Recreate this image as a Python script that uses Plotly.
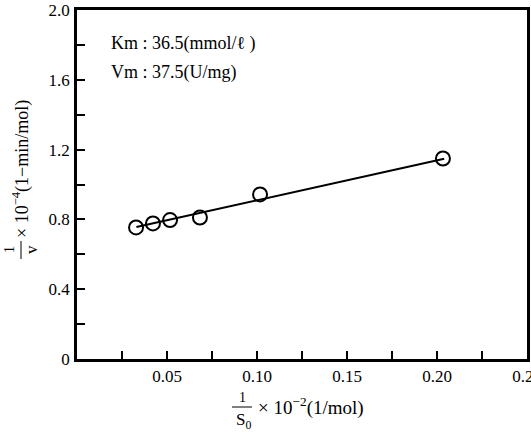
import plotly.graph_objects as go

# Data
x_vals = [0.0328, 0.0422, 0.0517, 0.0683, 0.1017, 0.2033]
y_vals = [0.754, 0.777, 0.796, 0.811, 0.943, 1.149]
fit_x = [0.033, 0.204]
fit_y = [0.757, 1.147]

x_tickvals = [0.05, 0.10, 0.15, 0.20, 0.25]
x_ticktext = ["0.05", "0.10", "0.15", "0.20", "0.25"]
y_tickvals = [0, 0.4, 0.8, 1.2, 1.6, 2.0]
y_ticktext = ["0", "0.4", "0.8", "1.2", "1.6", "2.0"]

W, H = 531, 432
L, T, R, B = 77, 10, 4, 73
PW, PH = W - L - R, H - T - B

def px(x):
    return (x - L) / PW

def py(y):
    return 1 - (y - T) / PH

FONT = "Liberation Serif"

fig = go.Figure()
fig.add_trace(go.Scatter(x=fit_x, y=fit_y, mode="lines",
                         line=dict(color="black", width=2), showlegend=False))
fig.add_trace(go.Scatter(x=x_vals, y=y_vals, mode="markers",
                         marker=dict(symbol="circle-open", size=14, color="black",
                                     line=dict(width=2, color="black")),
                         showlegend=False))

fig.update_xaxes(range=[0, 0.25], tickvals=x_tickvals, ticktext=x_ticktext,
                 ticks="inside", ticklen=8, tickwidth=2, tickcolor="black",
                 minor=dict(ticks="inside", ticklen=8, tickwidth=2, tickcolor="black",
                            tick0=0.025, dtick=0.05),
                 showline=True, linecolor="black", linewidth=2.5, mirror=True,
                 showgrid=False, zeroline=False, ticklabelstandoff=0,
                 ticklabeloverflow="allow", automargin=False,
                 tickfont=dict(family=FONT, size=17, color="black"))
fig.update_yaxes(range=[0, 2.0], tickvals=y_tickvals, ticktext=y_ticktext,
                 ticks="inside", ticklen=8, tickwidth=2, tickcolor="black",
                 minor=dict(ticks="inside", ticklen=8, tickwidth=2, tickcolor="black",
                            tick0=0.2, dtick=0.4),
                 showline=True, linecolor="black", linewidth=2.5, mirror=True,
                 showgrid=False, zeroline=False, ticklabelstandoff=1,
                 ticklabeloverflow="allow", automargin=False,
                 tickfont=dict(family=FONT, size=17, color="black"))

annots = [
    dict(text="Km : 36.5(mmol/ℓ )", x=px(109), y=py(43), xanchor="left", yanchor="middle", size=18),
    dict(text="Vm : 37.5(U/mg)", x=px(109), y=py(72), xanchor="left", yanchor="middle", size=18),
    # x-axis title
    dict(text="1", x=px(242), y=py(397), xanchor="center", yanchor="middle", size=14),
    dict(text="S<sub>0</sub>", x=px(243), y=py(421), xanchor="center", yanchor="middle", size=17),
    dict(text="× 10<sup>−2</sup>(1/mol)", x=px(256), y=py(406), xanchor="left", yanchor="middle", size=19),
]
for a in annots:
    fig.add_annotation(text=a["text"], x=a["x"], y=a["y"], xref="paper", yref="paper",
                       xanchor=a["xanchor"], yanchor=a["yanchor"], showarrow=False,
                       font=dict(family=FONT, size=a["size"], color="black"))

# y-axis title (rotated)
fig.add_annotation(text="1", x=px(10), y=py(250), xref="paper", yref="paper",
                   textangle=-90, showarrow=False, xanchor="center", yanchor="middle",
                   font=dict(family=FONT, size=14, color="black"))
fig.add_annotation(text="v", x=px(32), y=py(250), xref="paper", yref="paper",
                   textangle=-90, showarrow=False, xanchor="center", yanchor="middle",
                   font=dict(family=FONT, size=17, color="black"))
fig.add_annotation(text="× 10<sup>−4</sup>(1−min/mol)", x=px(21), y=py(240), xref="paper", yref="paper",
                   textangle=-90, showarrow=False, xanchor="center", yanchor="bottom",
                   font=dict(family=FONT, size=18, color="black"))

fig.add_shape(type="line", xref="paper", yref="paper",
              x0=px(232), x1=px(252), y0=py(407), y1=py(407),
              line=dict(color="black", width=1))
fig.add_shape(type="line", xref="paper", yref="paper",
              x0=px(21), x1=px(21), y0=py(241), y1=py(259),
              line=dict(color="black", width=1))

fig.update_layout(width=W, height=H, margin=dict(l=L, r=R, t=T, b=B, autoexpand=False),
                  paper_bgcolor="white", plot_bgcolor="white",
                  font=dict(family=FONT, color="black"))

fig.write_html("out.html", config={"displayModeBar": False},
               post_script="document.body.style.margin='0';document.body.style.padding='0';")
